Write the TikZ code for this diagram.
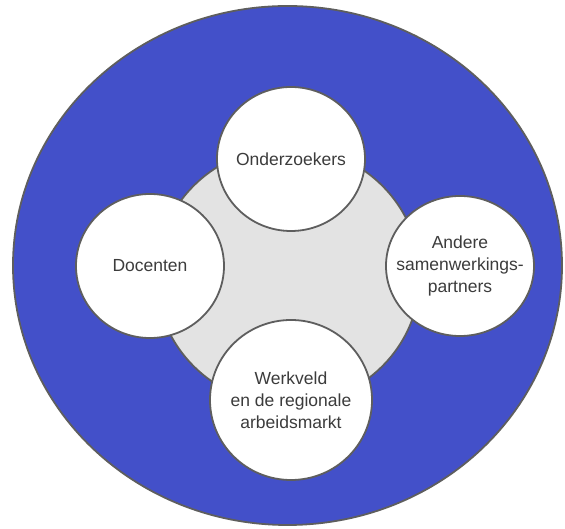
\documentclass[tikz,border=0pt]{standalone}
\usepackage{fontspec}
\setmainfont{Liberation Sans}
\usetikzlibrary{shapes.geometric}

\definecolor{ringblue}{HTML}{4350C9}
\definecolor{hubgray}{HTML}{E3E3E3}
\definecolor{rimgray}{HTML}{5E5E5E}
\definecolor{txtgray}{HTML}{3C3C3C}

\begin{document}
\begin{tikzpicture}[x=1pt,y=1pt]

\tikzset{
  Ring/.style = {ellipse, draw=rimgray, line width=1.8pt, fill=ringblue, inner sep=0pt},
  Hub/.style = {ellipse, draw=rimgray, line width=1.8pt, fill=hubgray, inner sep=0pt},
  Partner/.style = {ellipse, draw=rimgray, line width=1.8pt, fill=white, inner sep=0pt},
  Caption/.style = {text=txtgray, align=center, inner sep=0pt,
                    font=\fontsize{17.5}{22}\selectfont}
}

\useasboundingbox (0,0) rectangle (565,529);

\node[Ring, minimum width=549pt, minimum height=519pt] (ring) at (287.5,263.5) {};
\node[Hub, minimum width=264pt, minimum height=258pt] (hub) at (288,253) {};

\node[Partner, minimum width=148pt, minimum height=144pt,
      label={[Caption]center:Onderzoekers}] (onderzoek) at (291,370) {};
\node[Partner, minimum width=148pt, minimum height=144pt,
      label={[Caption]center:Docenten}] (docent) at (150,263) {};
\node[Partner, minimum width=148pt, minimum height=140pt,
      label={[Caption]center:{Andere\\samenwerkings-\\partners}}] (partners) at (460,263) {};
\node[Partner, minimum width=162pt, minimum height=160pt,
      label={[Caption]center:{Werkveld\\en de regionale\\arbeidsmarkt}}] (werkveld) at (291,129) {};

\end{tikzpicture}
\end{document}
